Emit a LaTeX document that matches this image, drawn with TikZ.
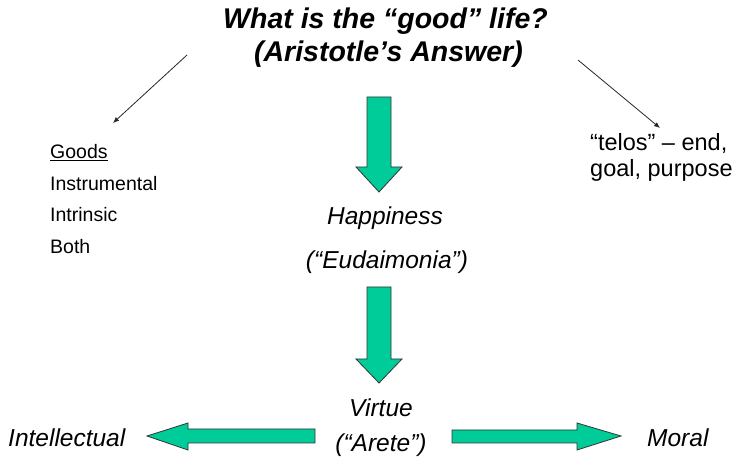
\documentclass[tikz,border=0pt]{standalone}
\usepackage{fontspec}
\setmainfont{Liberation Sans}
\usetikzlibrary{arrows.meta}
\definecolor{arrowgreen}{RGB}{0,204,153}
\tikzset{
  big/.style={font=\fontsize{24.5}{28}\selectfont\itshape, inner sep=0pt, anchor=center},
  titletxt/.style={font=\fontsize{28.5}{32}\selectfont\bfseries\itshape, inner sep=0pt, anchor=center},
  listtxt/.style={font=\fontsize{19.5}{22}\selectfont, inner sep=0pt, anchor=west},
  telostxt/.style={font=\fontsize{23.5}{27}\selectfont, inner sep=0pt, anchor=west},
  blockarrow/.style={fill=arrowgreen, draw=black!80, line width=0.8pt, line join=miter},
  thin/.style={draw=black!85, line width=0.8pt, -{Latex[length=6pt,width=5pt]}}
}
\begin{document}
\begin{tikzpicture}[x=1pt,y=-1pt]
\useasboundingbox (0,0) rectangle (732,462);
% title
\node[titletxt] (t1) at (385.5,21) {What is the “good” life?};
\node[titletxt] (t2) at (388.5,54) {(Aristotle’s Answer)};
% left list
\node[listtxt] (goods) at (50,153) {\underline{Goods}};
\node[listtxt] (instr) at (50,184) {Instrumental};
\node[listtxt] (intr) at (50,215) {Intrinsic};
\node[listtxt] (both) at (50,247) {Both};
% right text
\node[telostxt] (tel1) at (590,143) {“telos” – end,};
\node[telostxt] (tel2) at (590,170) {goal, purpose};
% center
\node[big] (happy) at (385,218) {Happiness};
\node[big] (eud) at (387,262) {(“Eudaimonia”)};
\node[big] (virtue) at (381,408) {Virtue};
\node[big] (arete) at (381,445) {(“Arete”)};
\node[big, anchor=west] (intel) at (8,438) {Intellectual};
\node[big, anchor=west] (moral) at (647,438) {Moral};
% thin arrows
\coordinate (la) at (187,55);
\coordinate (lb) at (113,123);
\coordinate (ra) at (578,60);
\coordinate (rb) at (660,128);
\draw[thin] (la) -- (lb);
\draw[thin] (ra) -- (rb);
% block arrows down
\draw[blockarrow] (367,97) -- (391,97) -- (391,167) -- (402,167) -- (379,192) -- (356,167) -- (367,167) -- cycle;
\draw[blockarrow] (367,287) -- (391,287) -- (391,359) -- (402,359) -- (379,383) -- (356,359) -- (367,359) -- cycle;
% left arrow
\draw[blockarrow] (315,429) -- (188,429) -- (188,423) -- (147,436) -- (188,450) -- (188,443) -- (315,443) -- cycle;
% right arrow
\draw[blockarrow] (452,430) -- (577,430) -- (577,423) -- (621,436) -- (577,450) -- (577,443) -- (452,443) -- cycle;
\end{tikzpicture}
\end{document}
